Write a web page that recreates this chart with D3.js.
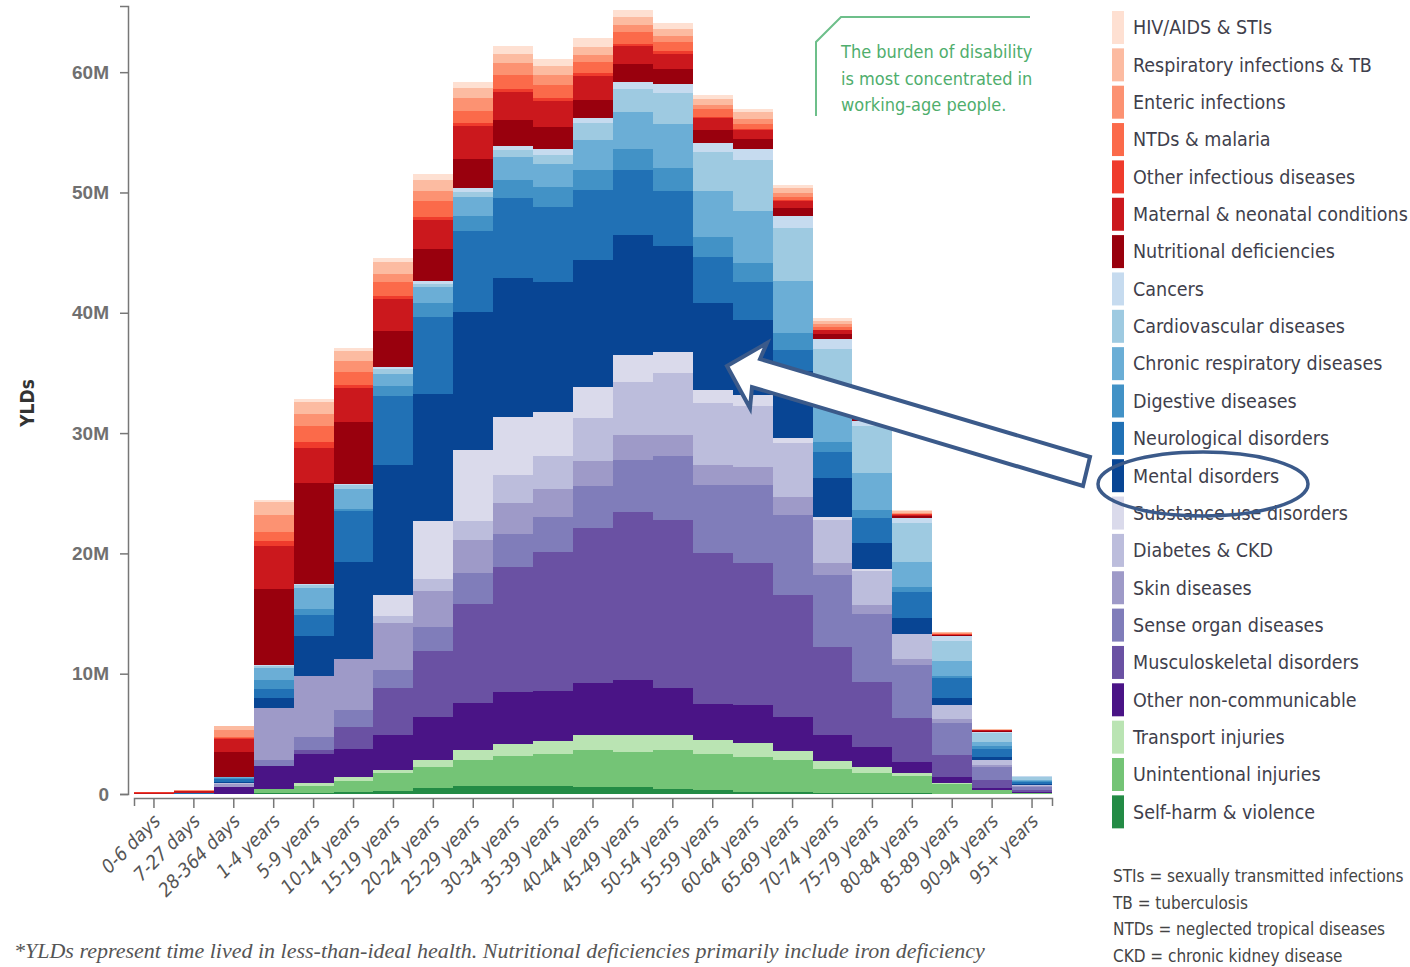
<!DOCTYPE html>
<html>
<head>
<meta charset="utf-8">
<script src="https://cdn.jsdelivr.net/npm/d3@7"></script>
<style>
body { margin: 0; background: #fff; }
svg text { font-family: "DejaVu Sans Condensed", "Liberation Sans", sans-serif; }
</style>
</head>
<body>
<div id="viz"></div>
<script>

//Age groups along the x axis
var ageGroups = ["0-6 days", "7-27 days", "28-364 days", "1-4 years", "5-9 years", "10-14 years",
	"15-19 years", "20-24 years", "25-29 years", "30-34 years", "35-39 years", "40-44 years",
	"45-49 years", "50-54 years", "55-59 years", "60-64 years", "65-69 years", "70-74 years",
	"75-79 years", "80-84 years", "85-89 years", "90-94 years", "95+ years"];

//YLDs in millions, one array per cause (bottom of the stack first)
var selfHarm      = [0, 0, 0, 0.05, 0.05, 0.15, 0.25, 0.5, 0.7, 0.7, 0.7, 0.6, 0.6, 0.45, 0.3, 0.2, 0.2, 0.1, 0.08, 0.05, 0.03, 0.01, 0.01];
var unintentional = [0, 0, 0.02, 0.35, 0.6, 0.97, 1.5, 1.75, 2.1, 2.5, 2.64, 3.05, 2.9, 3.2, 3.05, 2.9, 2.64, 2.0, 1.7, 1.44, 0.8, 0.3, 0.08];
var transport     = [0, 0, 0, 0.02, 0.28, 0.28, 0.28, 0.55, 0.83, 0.97, 1.1, 1.25, 1.39, 1.25, 1.1, 1.1, 0.7, 0.64, 0.5, 0.22, 0.1, 0.03, 0.01];
var otherNcd      = [0, 0.02, 0.55, 1.9, 2.36, 2.36, 2.9, 3.6, 3.9, 4.3, 4.16, 4.3, 4.58, 3.9, 3.05, 3.2, 2.9, 2.14, 1.66, 0.97, 0.47, 0.17, 0.04];
var musculo       = [0, 0, 0, 0, 0.33, 1.8, 3.9, 5.5, 8.3, 10.4, 11.5, 12.9, 14.0, 14.0, 12.5, 11.8, 10.1, 7.35, 5.4, 3.6, 1.88, 0.67, 0.17];
var senseOrgan    = [0, 0, 0.05, 0.47, 1.1, 1.4, 1.5, 1.94, 2.5, 2.78, 2.9, 3.46, 4.3, 5.27, 5.68, 6.5, 6.66, 5.96, 5.63, 4.44, 2.64, 1.05, 0.3];
var skin          = [0, 0, 0.2, 4.35, 5.07, 4.3, 3.9, 3.05, 2.8, 2.5, 2.36, 2.08, 2.08, 1.8, 1.66, 1.52, 1.52, 1.05, 0.75, 0.47, 0.28, 0.14, 0.03];
var diabetes      = [0, 0, 0.1, 0, 0, 0, 0.55, 1.0, 1.6, 2.36, 2.77, 3.6, 4.4, 5.13, 5.13, 5.0, 4.44, 3.55, 2.85, 2.1, 1.16, 0.42, 0.1];
var substance     = [0, 0, 0, 0, 0, 0, 1.8, 4.8, 5.9, 4.85, 3.6, 2.63, 2.2, 1.72, 1.1, 0.97, 0.42, 0.2, 0.12, 0.05, 0.03, 0.01, 0];
var mental        = [0, 0.02, 0.1, 0.83, 3.33, 8.0, 10.8, 10.6, 11.4, 11.5, 10.8, 10.54, 10.0, 8.82, 7.21, 6.18, 5.55, 3.24, 2.16, 1.25, 0.61, 0.28, 0.07];
var neuro         = [0, 0.05, 0.25, 0.78, 1.75, 4.3, 5.68, 6.4, 6.8, 6.66, 6.24, 5.82, 5.4, 4.58, 3.88, 3.16, 1.8, 2.16, 2.08, 2.2, 1.66, 0.7, 0.2];
var digestive     = [0, 0.02, 0.1, 0.7, 0.47, 0.14, 0.83, 1.1, 1.25, 1.52, 1.66, 1.66, 1.8, 1.94, 1.61, 1.61, 1.39, 0.89, 0.7, 0.42, 0.14, 0.2, 0.05];
var chronicResp   = [0, 0, 0.05, 1.0, 1.8, 1.66, 1.06, 1.33, 1.53, 1.9, 1.95, 2.5, 3.05, 3.6, 3.88, 4.3, 4.3, 3.1, 3.05, 2.08, 1.25, 0.36, 0.1];
var cardio        = [0, 0, 0.03, 0.2, 0.2, 0.3, 0.4, 0.3, 0.45, 0.6, 0.7, 1.39, 1.94, 2.64, 3.24, 4.3, 4.44, 4.6, 3.88, 3.2, 1.66, 0.7, 0.25];
var cancers       = [0, 0, 0, 0.1, 0.08, 0.1, 0.15, 0.2, 0.3, 0.35, 0.5, 0.42, 0.55, 0.7, 0.75, 0.89, 0.97, 0.83, 0.42, 0.42, 0.42, 0.14, 0.05];
var nutritional   = [0, 0, 2.03, 6.3, 8.4, 5.2, 2.97, 2.7, 2.44, 2.1, 1.9, 1.52, 1.52, 1.25, 1.05, 0.78, 0.7, 0.4, 0.15, 0.2, 0.06, 0.07, 0.01];
var maternal      = [0.12, 0.1, 1.1, 3.6, 2.9, 2.77, 2.64, 2.4, 2.75, 2.4, 2.1, 1.94, 1.5, 1.25, 0.97, 0.75, 0.55, 0.35, 0.1, 0.1, 0.06, 0.03, 0.01];
var otherInf      = [0.02, 0.03, 0.07, 0.4, 0.55, 0.28, 0.28, 0.2, 0.25, 0.25, 0.25, 0.3, 0.15, 0.28, 0.14, 0.1, 0.08, 0.05, 0.03, 0.03, 0.02, 0.01, 0];
var ntds          = [0, 0.02, 0.07, 0.7, 1.3, 1.1, 1.2, 1.4, 1.0, 1.1, 1.1, 0.85, 0.97, 0.7, 0.61, 0.42, 0.28, 0.2, 0.08, 0.05, 0.04, 0.01, 0.01];
var enteric       = [0, 0.05, 0.64, 1.4, 1.0, 0.9, 0.6, 0.83, 1.08, 1.0, 0.85, 0.6, 0.55, 0.55, 0.36, 0.42, 0.28, 0.22, 0.1, 0.08, 0.08, 0.03, 0.01];
var respInf       = [0.01, 0.05, 0.28, 1.1, 1.0, 0.78, 1.0, 0.9, 0.83, 0.8, 0.75, 0.7, 0.7, 0.55, 0.47, 0.55, 0.42, 0.3, 0.15, 0.12, 0.08, 0.04, 0.01];
var hivAids       = [0, 0, 0.05, 0.2, 0.3, 0.28, 0.36, 0.5, 0.5, 0.6, 0.6, 0.7, 0.55, 0.5, 0.36, 0.33, 0.28, 0.25, 0.05, 0.08, 0.02, 0.01, 0];

//Cause names, bottom -> top of the stack
var causes = ["Self-harm & violence", "Unintentional injuries", "Transport injuries", "Other non-communicable",
	"Musculoskeletal disorders", "Sense organ diseases", "Skin diseases", "Diabetes & CKD",
	"Substance use disorders", "Mental disorders", "Neurological disorders", "Digestive diseases",
	"Chronic respiratory diseases", "Cardiovascular diseases", "Cancers", "Nutritional deficiencies",
	"Maternal & neonatal conditions", "Other infectious diseases", "NTDs & malaria", "Enteric infections",
	"Respiratory infections & TB", "HIV/AIDS & STIs"];

var causeValues = [selfHarm, unintentional, transport, otherNcd, musculo, senseOrgan, skin, diabetes,
	substance, mental, neuro, digestive, chronicResp, cardio, cancers, nutritional,
	maternal, otherInf, ntds, enteric, respInf, hivAids];

var causeColors = ["#238b45", "#74c476", "#bae4b3", "#4a1486", "#6a51a3", "#807dba", "#9e9ac8", "#bcbddc",
	"#dadaeb", "#084594", "#2171b5", "#4292c6", "#6baed6", "#9ecae1", "#c6dbef", "#99000d",
	"#cb181d", "#ef3b2c", "#fb6a4a", "#fc9272", "#fcbba1", "#fee0d2"];

var yTicks = [0, 10, 20, 30, 40, 50, 60];

var notes = ["STIs = sexually transmitted infections", "TB = tuberculosis",
	"NTDs = neglected tropical diseases", "CKD = chronic kidney disease"];

var calloutLines = ["The burden of disability", "is most concentrated in", "working-age people."];

var width = 1410,
	height = 967;

//One row per age group for the stack layout
var rows = ageGroups.map(function(g, i) {
	var row = { age: g };
	causes.forEach(function(c, j) { row[c] = causeValues[j][i]; });
	return row;
});

var series = d3.stack().keys(causes)(rows);

var svg = d3.select("#viz")
	.append("svg")
	.attr("width", width)
	.attr("height", height);

//Scales
var x = d3.scaleBand()
	.domain(ageGroups)
	.range([134, 1052])
	.padding(0);

var y = d3.scaleLinear()
	.domain([0, 65.5])
	.range([794, 6]);

//Stacked bars
svg.append("g")
	.selectAll("g")
	.data(series)
	.join("g")
	.attr("fill", function(d, i) { return causeColors[i]; })
	.selectAll("rect")
	.data(function(d) { return d; })
	.join("rect")
	.attr("x", function(d) { return x(d.data.age); })
	.attr("y", function(d) { return y(d[1]); })
	.attr("width", x.bandwidth())
	.attr("height", function(d) { return y(d[0]) - y(d[1]); })
	.attr("shape-rendering", "crispEdges");

//Y axis
var yAxis = svg.append("g")
	.attr("transform", "translate(128,0)")
	.call(d3.axisLeft(y)
		.tickValues(yTicks)
		.tickSize(8)
		.tickSizeOuter(8)
		.tickPadding(11)
		.tickFormat(function(d) { return d === 0 ? "0" : d + "M"; }));

yAxis.selectAll("path, line").attr("stroke", "#777").attr("stroke-width", 1.5);
yAxis.selectAll("text")
	.style("font-family", "'Liberation Sans', Arial, sans-serif")
	.style("font-weight", "bold")
	.style("font-size", "19px")
	.attr("fill", "#707070");

svg.append("text")
	.attr("transform", "translate(34,403) rotate(-90)")
	.attr("text-anchor", "middle")
	.style("font-weight", "bold")
	.style("font-size", "19px")
	.attr("fill", "#333")
	.text("YLDs");

//X axis
var xAxis = svg.append("g")
	.attr("transform", "translate(0,798)")
	.call(d3.axisBottom(x).tickSize(10).tickSizeOuter(8));

xAxis.selectAll("path, line").attr("stroke", "#777").attr("stroke-width", 1.5);
xAxis.selectAll("text")
	.attr("x", -12)
	.attr("y", 16)
	.attr("dy", "0.35em")
	.attr("transform", "rotate(-45)")
	.style("text-anchor", "end")
	.style("font-style", "italic")
	.style("font-size", "19px")
	.attr("fill", "#555");

//Legend, top row is the top of the stack
var legendData = causes.map(function(c, i) { return { name: c, color: causeColors[i] }; }).reverse();

var legend = svg.append("g")
	.selectAll("g")
	.data(legendData)
	.join("g")
	.attr("transform", function(d, i) { return "translate(1112," + (27.5 + i * 37.35) + ")"; });

legend.append("rect")
	.attr("x", 0)
	.attr("y", -16.5)
	.attr("width", 12)
	.attr("height", 33)
	.attr("fill", function(d) { return d.color; });

legend.append("text")
	.attr("x", 21)
	.attr("dy", "0.35em")
	.style("font-size", "19.5px")
	.attr("fill", "#3f3f4c")
	.text(function(d) { return d.name; });

//Abbreviation notes
svg.append("g")
	.selectAll("text")
	.data(notes)
	.join("text")
	.attr("x", 1113)
	.attr("y", function(d, i) { return 882 + i * 26.6; })
	.style("font-size", "17px")
	.attr("fill", "#444")
	.text(function(d) { return d; });

//Footnote
svg.append("text")
	.attr("x", 14)
	.attr("y", 958)
	.style("font-family", "'Liberation Serif', 'Times New Roman', serif")
	.style("font-style", "italic")
	.style("font-size", "22px")
	.attr("fill", "#555")
	.text("*YLDs represent time lived in less-than-ideal health. Nutritional deficiencies primarily include iron deficiency");

//Green callout
svg.append("polyline")
	.attr("points", "816,116 816,42 841,17 1030,17")
	.attr("fill", "none")
	.attr("stroke", "#6dbf8a")
	.attr("stroke-width", 2);

svg.append("g")
	.selectAll("text")
	.data(calloutLines)
	.join("text")
	.attr("x", 841)
	.attr("y", function(d, i) { return 58 + i * 26.5; })
	.style("font-size", "18px")
	.attr("fill", "#4fae6d")
	.text(function(d) { return d; });

//Arrow from the legend into the mental disorders band
svg.append("polygon")
	.attr("points", "727,366 767,343 760,359 1090,457 1083,486 752,387 750,408")
	.attr("fill", "#fff")
	.attr("stroke", "#3b5a8a")
	.attr("stroke-width", 4)
	.attr("stroke-linejoin", "miter");

//Ellipse around the legend entry
svg.append("ellipse")
	.attr("cx", 1203)
	.attr("cy", 484)
	.attr("rx", 105)
	.attr("ry", 32)
	.attr("fill", "none")
	.attr("stroke", "#3b5a8a")
	.attr("stroke-width", 3.5);

</script>
</body>
</html>
